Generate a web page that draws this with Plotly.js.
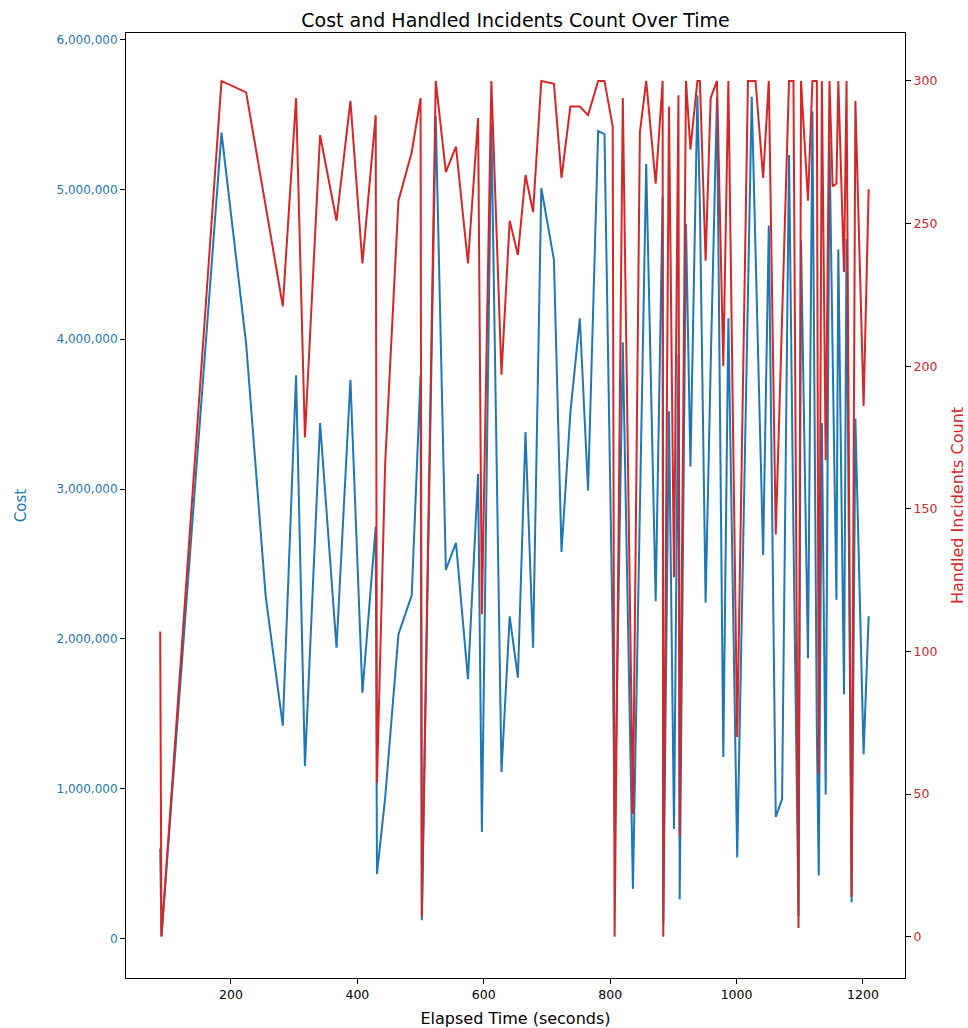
<!DOCTYPE html>
<html>
<head>
<meta charset="utf-8">
<script src="https://cdn.plot.ly/plotly-3.0.1.min.js"></script>
<style>
  html, body { margin: 0; padding: 0; background: #ffffff; }
  #chart { width: 968px; height: 1028px; }
</style>
</head>
<body>
<div id="chart"></div>
<script>
// Elapsed time of each sample (seconds)
const elapsedSeconds = [
  88, 90, 185, 224, 255, 282, 303, 317, 341, 367,
  389, 408, 429, 431, 444, 465, 486, 500, 502, 524,
  540, 556, 575, 591, 597, 612, 628, 641, 654, 666,
  678, 691, 711, 723, 737, 752, 765, 781, 791, 804,
  807, 820, 836, 847, 857, 872, 883, 884, 893, 901,
  908, 910, 920, 927, 938, 942, 951, 959, 969, 979,
  987, 1001, 1018, 1024, 1030, 1042, 1051, 1062, 1072, 1083,
  1090, 1098, 1102, 1113, 1120, 1127, 1130, 1135, 1141, 1147,
  1152, 1158, 1161, 1170, 1174, 1182, 1188, 1201, 1209
];

// Cost at each sample
const cost = [
  600000, 15000, 5380000, 3970000, 2280000, 1420000, 3760000, 1150000, 3440000, 1940000,
  3730000, 1640000, 2750000, 430000, 940000, 2030000, 2290000, 3760000, 120000, 5490000,
  2460000, 2640000, 1730000, 3100000, 710000, 5440000, 1110000, 2150000, 1740000, 3380000,
  1940000, 5010000, 4530000, 2580000, 3510000, 4140000, 2990000, 5390000, 5370000, 2000000,
  700000, 3980000, 330000, 2750000, 5170000, 2250000, 4950000, 100000, 3520000, 730000,
  3900000, 260000, 4770000, 3150000, 5630000, 4880000, 2240000, 3820000, 5620000, 1210000,
  4140000, 540000, 4230000, 5620000, 4590000, 2560000, 4760000, 810000, 930000, 5230000,
  2700000, 150000, 4660000, 1870000, 5520000, 1380000, 420000, 3440000, 960000, 5320000,
  3900000, 2260000, 4600000, 1630000, 4670000, 240000, 3470000, 1230000, 2150000
];

// Handled incidents count at each sample
const handledIncidents = [
  107, 0, 300, 296, 256, 221, 294, 175, 281, 251,
  293, 236, 288, 54, 166, 258, 275, 294, 7, 300,
  268, 277, 236, 287, 113, 300, 197, 251, 239, 267,
  254, 300, 299, 266, 291, 291, 288, 300, 300, 284,
  0, 294, 43, 282, 300, 264, 300, 0, 291, 126,
  295, 35, 300, 276, 300, 300, 237, 294, 300, 200,
  300, 70, 300, 300, 300, 266, 300, 141, 218, 300,
  300, 3, 300, 258, 300, 300, 57, 300, 167, 300,
  263, 264, 300, 233, 300, 14, 293, 186, 262
];

const xTicks = [200, 400, 600, 800, 1000, 1200];
const costTicks = [0, 1000000, 2000000, 3000000, 4000000, 5000000, 6000000];
const countTicks = [0, 50, 100, 150, 200, 250, 300];

const BLUE = '#1f77b4';
const RED = '#d62728';
const FONT = 'DejaVu Sans, Liberation Sans, sans-serif';

const traces = [
  {
    x: elapsedSeconds, y: cost, type: 'scatter', mode: 'lines',
    name: 'Cost', line: { color: BLUE, width: 2 }, yaxis: 'y'
  },
  {
    x: elapsedSeconds, y: handledIncidents, type: 'scatter', mode: 'lines',
    name: 'Handled Incidents Count', line: { color: RED, width: 2 }, yaxis: 'y2'
  }
];

const layout = {
  width: 968, height: 1028,
  margin: { l: 126, r: 63, t: 33, b: 50, pad: 0 },
  paper_bgcolor: '#ffffff', plot_bgcolor: '#ffffff',
  showlegend: false,
  font: { family: FONT, color: '#000000' },
  title: {
    text: 'Cost and Handled Incidents Count Over Time',
    font: { family: FONT, size: 19, color: '#000000' },
    x: 0.5, xref: 'paper', xanchor: 'center',
    y: 1 - 20 / 1028, yref: 'container', yanchor: 'middle'
  },
  xaxis: {
    range: [33.9, 1266.5],
    tickvals: xTicks, ticktext: xTicks.map(String),
    ticks: 'outside', ticklen: 5, tickwidth: 1, tickcolor: '#000000',
    showline: true, mirror: true, linecolor: '#000000', linewidth: 1,
    showgrid: false, zeroline: false,
    tickfont: { family: FONT, size: 12.5, color: '#000000' },
    title: { text: 'Elapsed Time (seconds)', font: { family: FONT, size: 16, color: '#000000' }, standoff: 13 }
  },
  yaxis: {
    range: [-265000, 6045000],
    tickvals: costTicks, tickformat: ',d',
    ticks: 'outside', ticklen: 5, tickwidth: 1, tickcolor: '#000000',
    showline: true, linecolor: '#000000', linewidth: 1,
    showgrid: false, zeroline: false,
    tickfont: { family: FONT, size: 12, color: BLUE },
    title: { text: 'Cost', font: { family: FONT, size: 15, color: BLUE }, standoff: 26 }
  },
  yaxis2: {
    overlaying: 'y', side: 'right', anchor: 'x',
    range: [-14.5, 316.8],
    tickvals: countTicks,
    ticks: 'outside', ticklen: 5, tickwidth: 1, tickcolor: '#000000',
    showline: true, linecolor: '#000000', linewidth: 1,
    showgrid: false, zeroline: false,
    tickfont: { family: FONT, size: 12.5, color: RED },
    title: { text: 'Handled Incidents Count', font: { family: FONT, size: 16, color: RED }, standoff: 15 }
  }
};

Plotly.newPlot('chart', traces, layout, { displayModeBar: false, staticPlot: true });
</script>
</body>
</html>
